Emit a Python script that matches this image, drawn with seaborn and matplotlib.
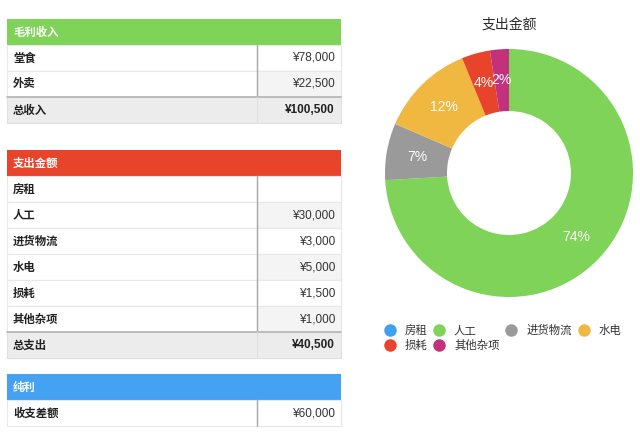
import matplotlib
matplotlib.use("Agg")
import matplotlib.pyplot as plt
import seaborn as sns
from matplotlib.patches import Rectangle
from matplotlib.lines import Line2D

# Data
income_items = ['堂食', '外卖']
income_values = [78000, 22500]

expense_items = ['房租', '人工', '进货物流', '水电', '损耗', '其他杂项']
expense_values = [0, 30000, 3000, 5000, 1500, 1000]

profit_items = ['收支差额']

colors = {'房租': '#3FA0F2', '人工': '#7ED358', '进货物流': '#9A9A9A',
          '水电': '#F0B840', '损耗': '#E8432B', '其他杂项': '#C3307C'}
header_colors = ['#7ED358', '#E8432B', '#45A2F2']

sns.set_theme(style="white")
plt.rcParams['font.family'] = ['Noto Sans CJK SC', 'DejaVu Sans']
num_font = ['Liberation Sans', 'DejaVu Sans']

fig = plt.figure(figsize=(6.4, 4.36), dpi=100)

# Tables, drawn in pixel coordinates
ax = fig.add_axes([0, 0, 1, 1])
ax.set_xlim(0, 640)
ax.set_ylim(436, 0)
ax.axis('off')

x0, x1, xdiv = 7, 341, 257
rh = 26


def fmt(v):
    return '' if not v else f'¥{v:,.0f}'


def draw_table(top, title, color, labels, values, total_label=None, total_value=None):
    ax.add_patch(Rectangle((x0, top), x1 - x0, rh, color=color, lw=0))
    ax.text(x0 + 6, top + rh / 2, title, color='white', fontsize=8.2,
            fontweight='bold', va='center')
    y = top + rh
    for i, (lab, val) in enumerate(zip(labels, values)):
        ax.add_patch(Rectangle((x0, y), x1 - x0, rh, facecolor='white',
                               edgecolor='#e8e8e8', lw=0.8))
        ax.add_patch(Rectangle((xdiv, y), x1 - xdiv, rh,
                               facecolor='#f4f4f4' if i % 2 else 'white',
                               edgecolor='#e8e8e8', lw=0.8))
        ax.text(x0 + 6, y + rh / 2, lab, fontsize=8.2, fontweight='bold',
                color='#222222', va='center')
        ax.text(x1 - 6, y + rh / 2, fmt(val), fontsize=8.5, color='#333333',
                va='center', ha='right', family=num_font)
        y += rh
    ax.plot([xdiv, xdiv], [top + rh, y], color='#a8a8a8', lw=1)
    if total_label is not None:
        ax.add_patch(Rectangle((x0, y), x1 - x0, rh, facecolor='#ececec',
                               edgecolor='#e0e0e0', lw=0.8))
        ax.plot([x0, x1], [y, y], color='#b8b8b8', lw=1.3)
        ax.plot([xdiv, xdiv], [y, y + rh], color='#e0e0e0', lw=0.8)
        ax.text(x0 + 6, y + rh / 2, total_label, fontsize=8.2, fontweight='bold',
                color='#222222', va='center')
        ax.text(x1 - 6, y + rh / 2, fmt(total_value), fontsize=8.5,
                fontweight='bold', color='#222222', va='center', ha='right',
                family=num_font)


total_income = sum(income_values)
total_expense = sum(expense_values)
draw_table(19, '毛利收入', header_colors[0], income_items, income_values,
           '总收入', total_income)
draw_table(150, '支出金额', header_colors[1], expense_items, expense_values,
           '总支出', total_expense)
draw_table(374, '纯利', header_colors[2], profit_items,
           [total_income - total_expense])

# Donut chart
axp = fig.add_axes([385 / 640, 1 - 297 / 436, 248 / 640, 248 / 436])
axp.pie(expense_values, colors=[colors[k] for k in expense_items],
        startangle=90, counterclock=False, pctdistance=0.75,
        autopct=lambda p: f'{p:.0f}%' if p > 0.5 else '',
        wedgeprops=dict(width=0.5, linewidth=0),
        textprops=dict(color='white', fontsize=10, family=num_font))
axp.set_xlim(-1, 1)
axp.set_ylim(-1, 1)
axp.set_aspect('equal')
axp.axis('off')

fig.text(509 / 640, 1 - 25 / 436, '支出金额', ha='center', va='center',
         fontsize=10, color='#2a2a2a', fontweight='medium')

# Legend (column-major order so it wraps like the reference)
order = ['房租', '损耗', '人工', '其他杂项', '进货物流', '水电']
handles = [Line2D([], [], marker='o', ls='none', markersize=9,
                  markerfacecolor=colors[k], markeredgewidth=0) for k in order]
fig.legend(handles, order, loc='upper left',
           bbox_to_anchor=(384 / 640, 1 - 325 / 436), ncol=4, frameon=False,
           fontsize=8.2, handlelength=1.0, handletextpad=0.8,
           columnspacing=0.55, labelspacing=0.3, borderpad=0, borderaxespad=0,
           labelcolor='#333333')

fig.savefig('out.png', dpi=100)
